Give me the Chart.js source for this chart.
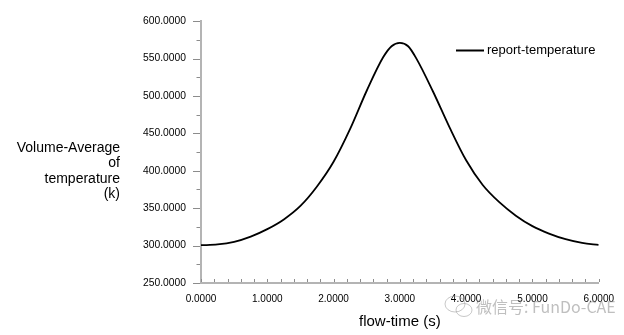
<!DOCTYPE html>
<html>
<head>
<meta charset="utf-8">
<title>report-temperature</title>
<script src="https://cdn.jsdelivr.net/npm/chart.js@4"></script>
<style>
  body { margin: 0; background: #ffffff; }
  #caja { width: 624px; height: 335px; }
</style>
</head>
<body>
<div id="caja"><canvas id="miGrafico" width="624" height="335"></canvas></div>
<script>
// Datos de la curva (tiempo en s, temperatura media en k)
var tiempos = [0, 0.25, 0.5, 0.75, 1, 1.25, 1.5, 1.75, 2, 2.25, 2.5, 2.75, 2.875, 3,
  3.125, 3.25, 3.5, 3.75, 4, 4.25, 4.5, 4.75, 5, 5.25, 5.5, 5.75, 6];
var temperaturas = [300.5, 301.5, 305, 312, 322, 335, 353, 379, 412, 456, 507, 552, 566.5, 571,
  566.5, 550, 506, 458, 414, 381, 358, 340, 326, 316, 308.5, 303.5, 301];

var ticksX = [0, 1, 2, 3, 4, 5, 6];
var ticksY = [250, 300, 350, 400, 450, 500, 550, 600];
var tituloY = ["Volume-Average", "of", "temperature", "(k)"];

document.addEventListener("DOMContentLoaded", function () {
  var ctx = document.getElementById("miGrafico").getContext("2d");
  var fuente = "'Liberation Sans', Arial, sans-serif";
  var gris = "#b4b4b4";

  var puntos = tiempos.map(function (t, i) {
    return { x: t, y: temperaturas[i] };
  });

  // Marcas pequeñas de los ejes (mayores y menores)
  var marcas = {
    id: "marcas",
    afterDraw: function (chart) {
      var c = chart.ctx, ex = chart.scales.x, ey = chart.scales.y;
      c.save();
      c.lineWidth = 1;
      c.strokeStyle = "#8c8c8c";
      for (var v = 250; v <= 600; v += 25) {
        var py = Math.round(ey.getPixelForValue(v)) + 0.5;
        var largo = v % 50 === 0 ? 7 : 3.5;
        c.beginPath();
        c.moveTo(ex.left - 1 - largo, py);
        c.lineTo(ex.left - 1, py);
        c.stroke();
      }
      for (var i = 0; i <= 30; i++) {
        var px = Math.round(ex.getPixelForValue(i * 0.2)) + 0.5;
        c.beginPath();
        c.moveTo(px, ey.bottom - 1);
        c.lineTo(px, ey.bottom - 4);
        c.stroke();
      }
      c.restore();
    }
  };

  // Título vertical en varias líneas, alineado a la derecha
  var tituloEjeY = {
    id: "tituloEjeY",
    afterDraw: function (chart) {
      var c = chart.ctx;
      c.save();
      c.fillStyle = "#000000";
      c.font = "14px " + fuente;
      c.textAlign = "right";
      c.textBaseline = "middle";
      tituloY.forEach(function (linea, i) {
        c.fillText(linea, 120, 148 + i * 15.5);
      });
      c.restore();
    }
  };

  // Leyenda dentro del área del gráfico
  var leyenda = {
    id: "leyenda",
    afterDraw: function (chart) {
      var c = chart.ctx, ds = chart.data.datasets[0];
      c.save();
      c.strokeStyle = ds.borderColor;
      c.lineWidth = 2;
      c.beginPath();
      c.moveTo(456, 50.5);
      c.lineTo(484, 50.5);
      c.stroke();
      c.fillStyle = "#000000";
      c.font = "13px " + fuente;
      c.textBaseline = "middle";
      c.fillText(ds.label, 487, 50);
      c.restore();
    }
  };

  // Marca de agua
  var marcaAgua = {
    id: "marcaAgua",
    afterDraw: function (chart) {
      var c = chart.ctx;
      c.save();
      c.globalAlpha = 0.55;
      c.strokeStyle = "#9a9a9a";
      c.lineWidth = 1;
      c.beginPath();
      c.ellipse(455, 304, 10, 8, 0, 0, Math.PI * 2);
      c.stroke();
      c.beginPath();
      c.ellipse(464, 310, 8, 6.5, 0, 0, Math.PI * 2);
      c.stroke();
      c.fillStyle = "#8a8a8a";
      c.font = "16px 'Noto Sans CJK SC', sans-serif";
      c.textBaseline = "middle";
      c.fillText("微信号: FunDo-CAE", 476, 307);
      c.restore();
    }
  };

  var data = {
    datasets: [
      {
        label: "report-temperature",
        data: puntos,
        borderColor: "#000000",
        borderWidth: 1.8,
        pointRadius: 0,
        fill: false,
        cubicInterpolationMode: "monotone",
      },
    ],
  };

  var options = {
    responsive: false,
    animation: false,
    layout: { padding: { top: 8, right: 22, left: 0, bottom: 0 } },
    plugins: {
      legend: { display: false },
      tooltip: { enabled: false },
    },
    scales: {
      x: {
        type: "linear",
        min: 0,
        max: 6,
        afterFit: function (scale) { scale.height = 52; },
        afterBuildTicks: function (scale) {
          scale.ticks = ticksX.map(function (v) { return { value: v }; });
        },
        grid: { display: false, drawTicks: false },
        border: { display: true, color: gris, width: 2 },
        ticks: {
          padding: 10,
          maxRotation: 0,
          color: "#000000",
          font: { size: 10, family: fuente },
          callback: function (v) { return Number(v).toFixed(4); },
        },
        title: {
          display: true,
          text: "flow-time (s)",
          color: "#000000",
          font: { size: 15, family: fuente },
          padding: { top: 0, bottom: 4 },
        },
      },
      y: {
        type: "linear",
        min: 250,
        max: 600,
        afterFit: function (scale) { scale.width = 201; },
        afterBuildTicks: function (scale) {
          scale.ticks = ticksY.map(function (v) { return { value: v }; });
        },
        grid: { display: false, drawTicks: false },
        border: { display: true, color: gris, width: 2 },
        ticks: {
          padding: 15,
          color: "#000000",
          font: { size: 10.3, family: fuente },
          callback: function (v) { return Number(v).toFixed(4); },
        },
      },
    },
  };

  var myChart = new Chart(ctx, {
    type: "line",
    data: data,
    options: options,
    plugins: [marcas, tituloEjeY, leyenda, marcaAgua],
  });
});
</script>
</body>
</html>
